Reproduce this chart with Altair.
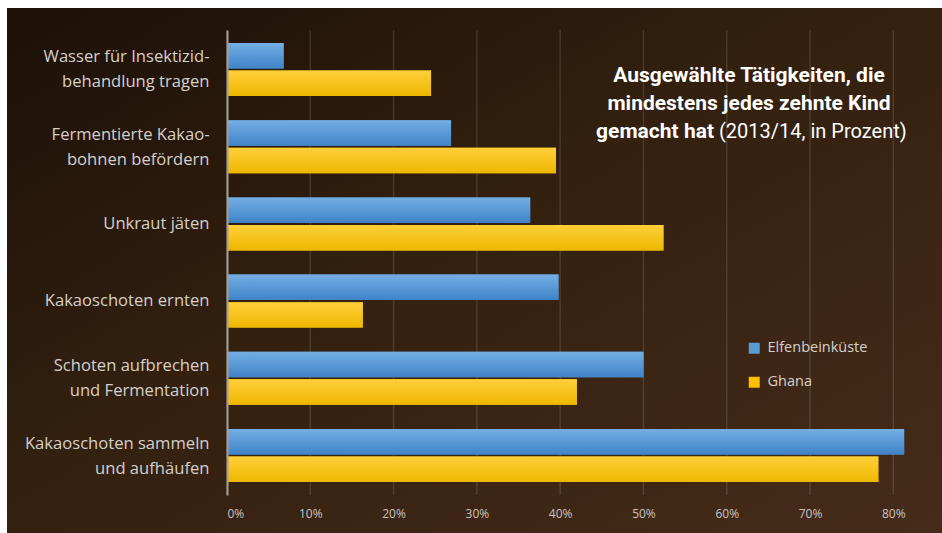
import altair as alt
import pandas as pd

# ---- data ----
categories = [
    "Wasser für Insektizid-\nbehandlung tragen",
    "Fermentierte Kakao-\nbohnen befördern",
    "Unkraut jäten",
    "Kakaoschoten ernten",
    "Schoten aufbrechen\nund Fermentation",
    "Kakaoschoten sammeln\nund aufhäufen",
]
series = ["Elfenbeinküste", "Ghana"]
elfenbein = [6.8, 26.9, 36.4, 39.8, 50.0, 81.3]
ghana = [24.5, 39.5, 52.4, 16.3, 42.0, 78.2]
x_ticks = [0, 10, 20, 30, 40, 50, 60, 70, 80]
series_colors = ["#5b9bd5", "#ffc000"]
title_bold_lines = ["Ausgewählte Tätigkeiten, die", "mindestens jedes zehnte Kind"]
title_last_bold = "gemacht hat"
title_last_regular = "(2013/14, in Prozent)"

rows = []
for c, e, g in zip(categories, elfenbein, ghana):
    rows.append({"Tätigkeit": c, "Land": series[0], "Wert": e})
    rows.append({"Tätigkeit": c, "Land": series[1], "Wert": g})
df = pd.DataFrame(rows)

W, H = 683, 465
PAD = {"left": 227, "top": 30, "right": 32, "bottom": 38}

label_font = "Open Sans"
title_font = "Roboto"

# ---- background panel ----
bg_grad = {
    "gradient": "linear", "x1": 0, "y1": 0, "x2": 1, "y2": 1,
    "stops": [
        {"offset": 0, "color": "#1c1007"},
        {"offset": 0.45, "color": "#33200f"},
        {"offset": 1, "color": "#462b1a"},
    ],
}
one = pd.DataFrame({"k": [0]})
panel = alt.Chart(one).mark_rect(fill=bg_grad).encode(
    x=alt.value(-220), x2=alt.value(W + PAD["right"]),
    y=alt.value(-22), y2=alt.value(H + PAD["bottom"]),
)

x_scale = alt.Scale(domain=[0, 82], nice=False)

grid = alt.Chart(pd.DataFrame({"v": x_ticks})).mark_rule(
    color="#ffffff", opacity=0.12, strokeWidth=1.5
).encode(x=alt.X("v:Q", scale=x_scale, title=None))

y_enc = alt.Y(
    "Tätigkeit:N", sort=categories,
    scale=alt.Scale(domain=categories, paddingInner=0.313, paddingOuter=0.168),
    axis=alt.Axis(
        title=None, labelExpr="split(datum.label, '\\n')", labelAlign="right",
        labelBaseline="middle", labelPadding=18, ticks=False, labelLineHeight=25,
        labelOffset={"condition": {"test": "indexof(datum.value, '\\n') >= 0", "value": -12},
                     "value": 0},
        labelLimit=300,
        labelFont=label_font, labelFontSize=16.6, labelColor="#d4d0cc",
        domainColor="#a8a096", domainWidth=2, grid=False, zindex=1,
    ),
)
x_enc = alt.X(
    "Wert:Q",
    scale=x_scale,
    axis=alt.Axis(
        title=None, values=x_ticks, labelExpr="datum.value + '%'",
        labelFont=label_font, labelFontSize=12, labelColor="#c9c4bf",
        labelPadding=13, ticks=False, domain=False, grid=False, zindex=1,
    ),
)
yoff = alt.YOffset("Land:N", scale=alt.Scale(domain=series, paddingInner=0.075, paddingOuter=0))

base = alt.Chart(df)

shadow = base.mark_bar(color="#000000", opacity=0.3, x2Offset=4, yOffset=4, y2Offset=4).encode(
    y=y_enc, x=x_enc, yOffset=yoff
)

flat = base.mark_bar().encode(
    y=y_enc, x=x_enc, yOffset=yoff,
    color=alt.Color(
        "Land:N",
        scale=alt.Scale(domain=series, range=series_colors),
        legend=alt.Legend(
            title=None, orient="none", legendX=520, legendY=311,
            symbolType="square", symbolSize=120, symbolStrokeWidth=0,
            labelFont=label_font, labelFontSize=14.5, labelColor="#d4d0cc",
            rowPadding=19, labelOffset=6,
        ),
    ),
)

blue_grad = {
    "gradient": "linear", "x1": 0, "y1": 0, "x2": 0, "y2": 1,
    "stops": [{"offset": 0, "color": "#74aee4"}, {"offset": 1, "color": "#3f84c8"}],
}
gold_grad = {
    "gradient": "linear", "x1": 0, "y1": 0, "x2": 0, "y2": 1,
    "stops": [{"offset": 0, "color": "#ffcf3a"}, {"offset": 1, "color": "#eeb800"}],
}
blue_bars = base.mark_bar(fill=blue_grad).encode(
    y=y_enc, x=x_enc, yOffset=yoff
).transform_filter(alt.datum.Land == series[0])
gold_bars = base.mark_bar(fill=gold_grad).encode(
    y=y_enc, x=x_enc, yOffset=yoff
).transform_filter(alt.datum.Land == series[1])

# ---- title text ----
tx = 522
texts = []
for i, line in enumerate(title_bold_lines):
    yy = 46 + 28 * i
    texts.append(
        alt.Chart(pd.DataFrame({"t": [line]})).mark_text(
            font=title_font, fontSize=21, fontWeight="bold", color="#ffffff",
            align="center", baseline="middle",
        ).encode(text="t:N", x=alt.value(tx), y=alt.value(yy))
    )
texts.append(
    alt.Chart(pd.DataFrame({"t": [title_last_bold]})).mark_text(
        font=title_font, fontSize=21, fontWeight="bold", color="#ffffff",
        align="right", baseline="middle",
    ).encode(text="t:N", x=alt.value(487), y=alt.value(102))
)
texts.append(
    alt.Chart(pd.DataFrame({"t": [title_last_regular]})).mark_text(
        font=title_font, fontSize=20, fontWeight="normal", color="#ffffff",
        align="left", baseline="middle",
    ).encode(text="t:N", x=alt.value(492), y=alt.value(102))
)

chart = alt.layer(panel, grid, shadow, flat, blue_bars, gold_bars, *texts).properties(
    width=W, height=H, autosize="none", padding=PAD, background="white",
).configure_view(stroke=None)

chart.save("out.html", embed_options={"renderer": "svg", "actions": False})
